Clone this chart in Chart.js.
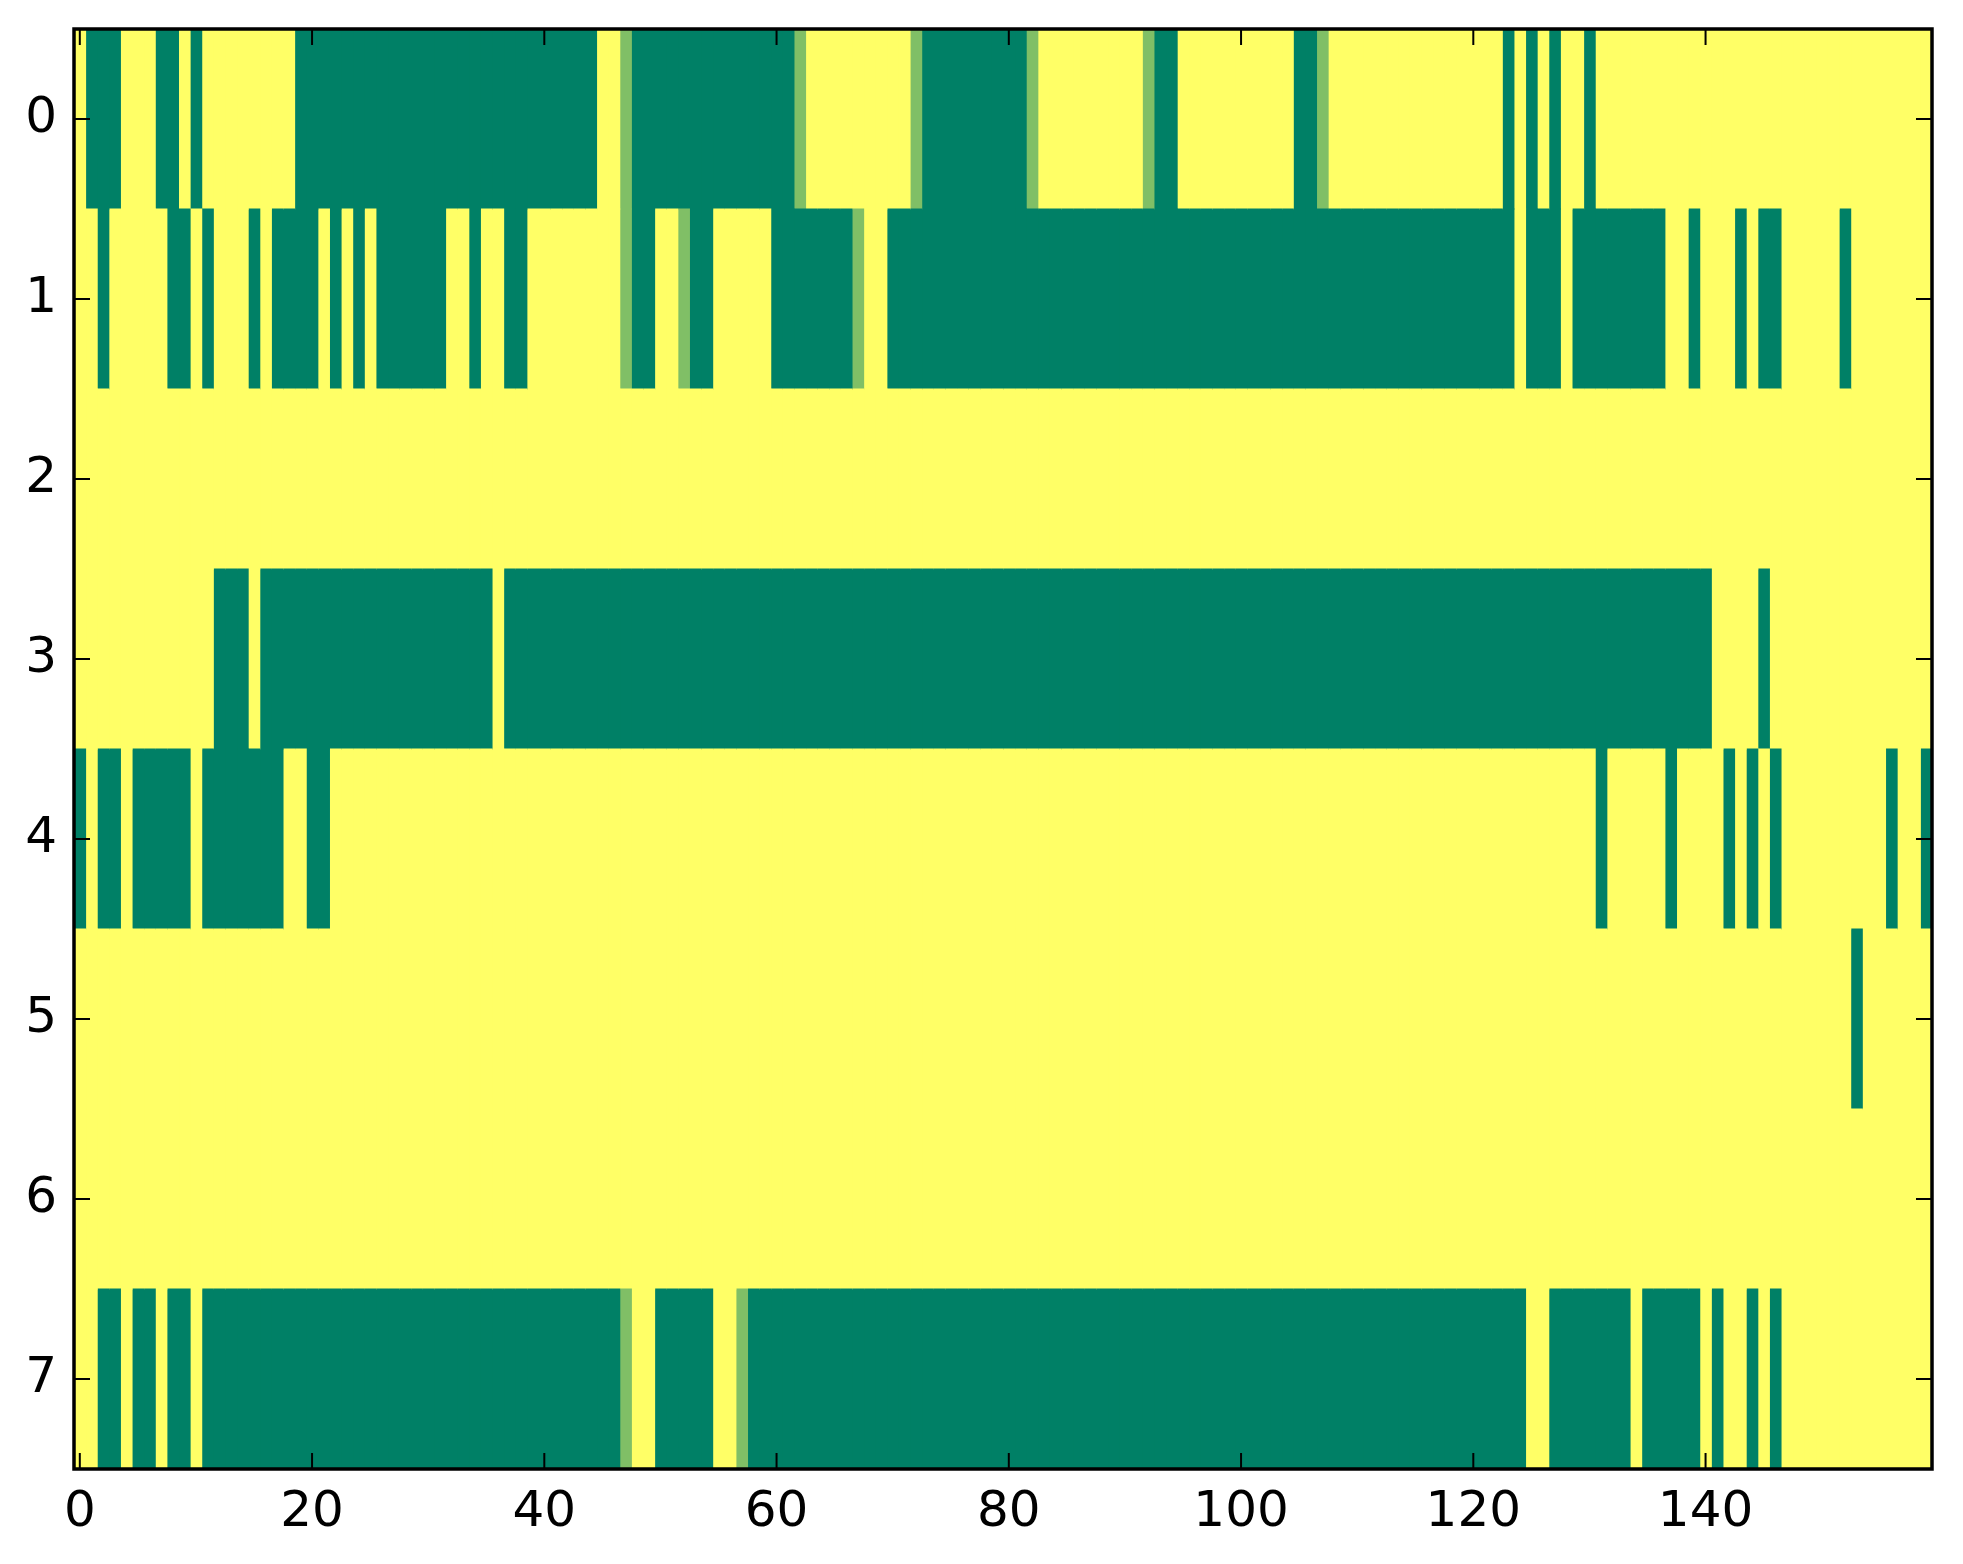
<!DOCTYPE html>
<html>
<head>
<meta charset="utf-8">
<script src="https://cdn.jsdelivr.net/npm/chart.js@4.4.1/dist/chart.umd.min.js"></script>
<style>
  html, body { margin: 0; padding: 0; background: #fff; }
  #wrap { width: 1963px; height: 1564px; }
</style>
</head>
<body>
<div id="wrap"><canvas id="heatmap" width="1963" height="1564"></canvas></div>
<script>
// Row labels (top to bottom) and x tick labels
const yLabels = ['0', '1', '2', '3', '4', '5', '6', '7'];
const xTicks = [0, 20, 40, 60, 80, 100, 120, 140];

// Cell values per row, 160 columns each (1 = yellow, 0 = green, 0.5 = in between)
const row0 = [
  1,0,0,0,1,1,1,0,0,1, 0,1,1,1,1,1,1,1,1,0,
  0,0,0,0,0,0,0,0,0,0, 0,0,0,0,0,0,0,0,0,0,
  0,0,0,0,0,1,1,0.5,0,0, 0,0,0,0,0,0,0,0,0,0,
  0,0,0.5,1,1,1,1,1,1,1, 1,1,0.5,0,0,0,0,0,0,0,
  0,0,0.5,1,1,1,1,1,1,1, 1,1,0.5,0,0,1,1,1,1,1,
  1,1,1,1,1,0,0,0.5,1,1, 1,1,1,1,1,1,1,1,1,1,
  1,1,1,0,1,0,1,0,1,1, 0,1,1,1,1,1,1,1,1,1,
  1,1,1,1,1,1,1,1,1,1, 1,1,1,1,1,1,1,1,1,1
];
const row1 = [
  1,1,0,1,1,1,1,1,0,0, 1,0,1,1,1,0,1,0,0,0,
  0,1,0,1,0,1,0,0,0,0, 0,0,1,1,0,1,1,0,0,1,
  1,1,1,1,1,1,1,0.5,0,0, 1,1,0.5,0,0,1,1,1,1,1,
  0,0,0,0,0,0,0,0.5,1,1, 0,0,0,0,0,0,0,0,0,0,
  0,0,0,0,0,0,0,0,0,0, 0,0,0,0,0,0,0,0,0,0,
  0,0,0,0,0,0,0,0,0,0, 0,0,0,0,0,0,0,0,0,0,
  0,0,0,0,1,0,0,0,1,0, 0,0,0,0,0,0,0,1,1,0,
  1,1,1,0,1,0,0,1,1,1, 1,1,0,1,1,1,1,1,1,1
];
const row2 = [
  1,1,1,1,1,1,1,1,1,1, 1,1,1,1,1,1,1,1,1,1,
  1,1,1,1,1,1,1,1,1,1, 1,1,1,1,1,1,1,1,1,1,
  1,1,1,1,1,1,1,1,1,1, 1,1,1,1,1,1,1,1,1,1,
  1,1,1,1,1,1,1,1,1,1, 1,1,1,1,1,1,1,1,1,1,
  1,1,1,1,1,1,1,1,1,1, 1,1,1,1,1,1,1,1,1,1,
  1,1,1,1,1,1,1,1,1,1, 1,1,1,1,1,1,1,1,1,1,
  1,1,1,1,1,1,1,1,1,1, 1,1,1,1,1,1,1,1,1,1,
  1,1,1,1,1,1,1,1,1,1, 1,1,1,1,1,1,1,1,1,1
];
const row3 = [
  1,1,1,1,1,1,1,1,1,1, 1,1,0,0,0,1,0,0,0,0,
  0,0,0,0,0,0,0,0,0,0, 0,0,0,0,0,0,1,0,0,0,
  0,0,0,0,0,0,0,0,0,0, 0,0,0,0,0,0,0,0,0,0,
  0,0,0,0,0,0,0,0,0,0, 0,0,0,0,0,0,0,0,0,0,
  0,0,0,0,0,0,0,0,0,0, 0,0,0,0,0,0,0,0,0,0,
  0,0,0,0,0,0,0,0,0,0, 0,0,0,0,0,0,0,0,0,0,
  0,0,0,0,0,0,0,0,0,0, 0,0,0,0,0,0,0,0,0,0,
  0,1,1,1,1,0,1,1,1,1, 1,1,1,1,1,1,1,1,1,1
];
const row4 = [
  0,1,0,0,1,0,0,0,0,0, 1,0,0,0,0,0,0,0,1,1,
  0,0,1,1,1,1,1,1,1,1, 1,1,1,1,1,1,1,1,1,1,
  1,1,1,1,1,1,1,1,1,1, 1,1,1,1,1,1,1,1,1,1,
  1,1,1,1,1,1,1,1,1,1, 1,1,1,1,1,1,1,1,1,1,
  1,1,1,1,1,1,1,1,1,1, 1,1,1,1,1,1,1,1,1,1,
  1,1,1,1,1,1,1,1,1,1, 1,1,1,1,1,1,1,1,1,1,
  1,1,1,1,1,1,1,1,1,1, 1,0,1,1,1,1,1,0,1,1,
  1,1,0,1,0,1,0,1,1,1, 1,1,1,1,1,1,0,1,1,0
];
const row5 = [
  1,1,1,1,1,1,1,1,1,1, 1,1,1,1,1,1,1,1,1,1,
  1,1,1,1,1,1,1,1,1,1, 1,1,1,1,1,1,1,1,1,1,
  1,1,1,1,1,1,1,1,1,1, 1,1,1,1,1,1,1,1,1,1,
  1,1,1,1,1,1,1,1,1,1, 1,1,1,1,1,1,1,1,1,1,
  1,1,1,1,1,1,1,1,1,1, 1,1,1,1,1,1,1,1,1,1,
  1,1,1,1,1,1,1,1,1,1, 1,1,1,1,1,1,1,1,1,1,
  1,1,1,1,1,1,1,1,1,1, 1,1,1,1,1,1,1,1,1,1,
  1,1,1,1,1,1,1,1,1,1, 1,1,1,0,1,1,1,1,1,1
];
const row6 = [
  1,1,1,1,1,1,1,1,1,1, 1,1,1,1,1,1,1,1,1,1,
  1,1,1,1,1,1,1,1,1,1, 1,1,1,1,1,1,1,1,1,1,
  1,1,1,1,1,1,1,1,1,1, 1,1,1,1,1,1,1,1,1,1,
  1,1,1,1,1,1,1,1,1,1, 1,1,1,1,1,1,1,1,1,1,
  1,1,1,1,1,1,1,1,1,1, 1,1,1,1,1,1,1,1,1,1,
  1,1,1,1,1,1,1,1,1,1, 1,1,1,1,1,1,1,1,1,1,
  1,1,1,1,1,1,1,1,1,1, 1,1,1,1,1,1,1,1,1,1,
  1,1,1,1,1,1,1,1,1,1, 1,1,1,1,1,1,1,1,1,1
];
const row7 = [
  1,1,0,0,1,0,0,1,0,0, 1,0,0,0,0,0,0,0,0,0,
  0,0,0,0,0,0,0,0,0,0, 0,0,0,0,0,0,0,0,0,0,
  0,0,0,0,0,0,0,0.5,1,1, 0,0,0,0,0,1,1,0.5,0,0,
  0,0,0,0,0,0,0,0,0,0, 0,0,0,0,0,0,0,0,0,0,
  0,0,0,0,0,0,0,0,0,0, 0,0,0,0,0,0,0,0,0,0,
  0,0,0,0,0,0,0,0,0,0, 0,0,0,0,0,0,0,0,0,0,
  0,0,0,0,0,1,1,0,0,0, 0,0,0,0,1,0,0,0,0,0,
  1,0,1,1,0,1,0,1,1,1, 1,1,1,1,1,1,1,1,1,1
];

const rows = [row0, row1, row2, row3, row4, row5, row6, row7];

// matplotlib "summer" colormap
function summerColor(v) {
    const r = Math.round(255 * v);
    const g = Math.round(255 * (0.5 + 0.5 * v));
    return `rgb(${r},${g},102)`;
}

// One dataset per column, each a floating bar spanning that column in every row
const datasets = [];
for (let c = 0; c < row0.length; c++) {
    datasets.push({
        data: rows.map(() => [c - 0.5, c + 0.5]),
        backgroundColor: rows.map(r => summerColor(r[c])),
        borderWidth: 0,
        grouped: false,
        barPercentage: 1,
        categoryPercentage: 1,
        inflateAmount: 0.5
    });
}

// Frame on all four sides with inward ticks (classic matplotlib look)
const framePlugin = {
    id: 'frame',
    afterDraw(chart) {
        const { ctx, chartArea: a, scales: { x, y } } = chart;
        const len = 16;
        ctx.save();
        ctx.strokeStyle = '#000';
        ctx.lineWidth = 2;
        ctx.beginPath();
        xTicks.forEach(v => {
            const px = x.getPixelForValue(v);
            ctx.moveTo(px, a.bottom); ctx.lineTo(px, a.bottom - len);
            ctx.moveTo(px, a.top); ctx.lineTo(px, a.top + len);
        });
        yLabels.forEach((lab, i) => {
            const py = y.getPixelForValue(i);
            ctx.moveTo(a.left, py); ctx.lineTo(a.left + len, py);
            ctx.moveTo(a.right, py); ctx.lineTo(a.right - len, py);
        });
        ctx.stroke();
        ctx.lineWidth = 3.5;
        ctx.strokeRect(a.left, a.top, a.right - a.left, a.bottom - a.top);
        ctx.restore();
    }
};

const tickFont = { family: 'DejaVu Sans', size: 50 };

new Chart(document.getElementById('heatmap').getContext('2d'), {
    type: 'bar',
    data: { labels: yLabels, datasets: datasets },
    options: {
        indexAxis: 'y',
        responsive: false,
        animation: false,
        devicePixelRatio: 1,
        layout: { padding: { top: 29, right: 31, left: 0, bottom: 0 } },
        plugins: {
            legend: { display: false },
            tooltip: { enabled: false }
        },
        scales: {
            x: {
                type: 'linear',
                min: -0.5,
                max: 159.5,
                grid: { display: false, drawTicks: false },
                border: { display: false },
                afterBuildTicks: s => { s.ticks = xTicks.map(v => ({ value: v })); },
                afterFit: s => { s.height = 95; s.paddingLeft = 0; s.paddingRight = 0; },
                ticks: {
                    font: tickFont,
                    color: '#000',
                    padding: 14,
                    maxRotation: 0,
                    autoSkip: false,
                    callback: v => String(v)
                }
            },
            y: {
                grid: { display: false, drawTicks: false },
                border: { display: false },
                afterFit: s => { s.width = 74; s.paddingTop = 0; s.paddingBottom = 0; },
                ticks: {
                    font: tickFont,
                    color: '#000',
                    padding: 17
                }
            }
        }
    },
    plugins: [framePlugin]
});
</script>
</body>
</html>
